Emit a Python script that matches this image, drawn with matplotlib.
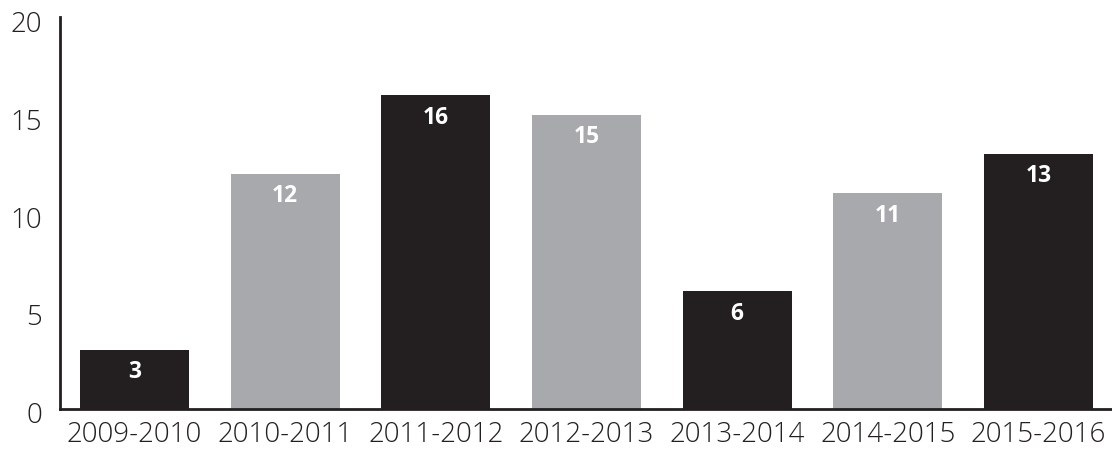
import matplotlib
matplotlib.use("Agg")
import matplotlib.pyplot as plt
import matplotlib.transforms as mtransforms

seasons = ["2009-2010", "2010-2011", "2011-2012", "2012-2013",
           "2013-2014", "2014-2015", "2015-2016"]
counts = [3, 12, 16, 15, 6, 11, 13]
bar_colors = ["#231f20", "#a7a9ac", "#231f20", "#a7a9ac",
              "#231f20", "#a7a9ac", "#231f20"]
yticks = [0, 5, 10, 15, 20]

plt.rcParams["font.family"] = ["Open Sans", "DejaVu Sans"]

fig = plt.figure(figsize=(11.12, 4.49), dpi=100)
ax = fig.add_axes([0.054, 0.0891, 0.946, 0.873])

x = range(len(seasons))
bars = ax.bar(x, counts, width=0.723, color=bar_colors, zorder=2)

# valeurs en blanc dans le haut de chaque barre
for b, v in zip(bars, counts):
    ax.annotate(str(v), (b.get_x() + b.get_width() / 2, v),
                xytext=(0, -16), textcoords="offset points",
                ha="center", va="center", color="white",
                fontsize=16.5, fontweight="bold")

ax.set_xlim(-0.494, 6.488)
ax.set_ylim(0, 20)
ax.set_xticks(list(x))
ax.set_xticklabels(seasons)
ax.set_yticks(yticks)

for s in ["top", "right"]:
    ax.spines[s].set_visible(False)
for s in ["left", "bottom"]:
    ax.spines[s].set_linewidth(2)
    ax.spines[s].set_color("#231f20")

ax.tick_params(axis="both", length=0, labelsize=20, colors="#231f20")
ax.tick_params(axis="y", pad=13)
ax.tick_params(axis="x", pad=9)
for lab in ax.get_xticklabels() + ax.get_yticklabels():
    lab.set_fontweight(300)

# chiffres de l'axe y un peu plus bas que les graduations
shift = mtransforms.ScaledTranslation(0, -4 / 100, fig.dpi_scale_trans)
for lab in ax.get_yticklabels():
    lab.set_transform(lab.get_transform() + shift)

fig.savefig("out.png", dpi=100)
